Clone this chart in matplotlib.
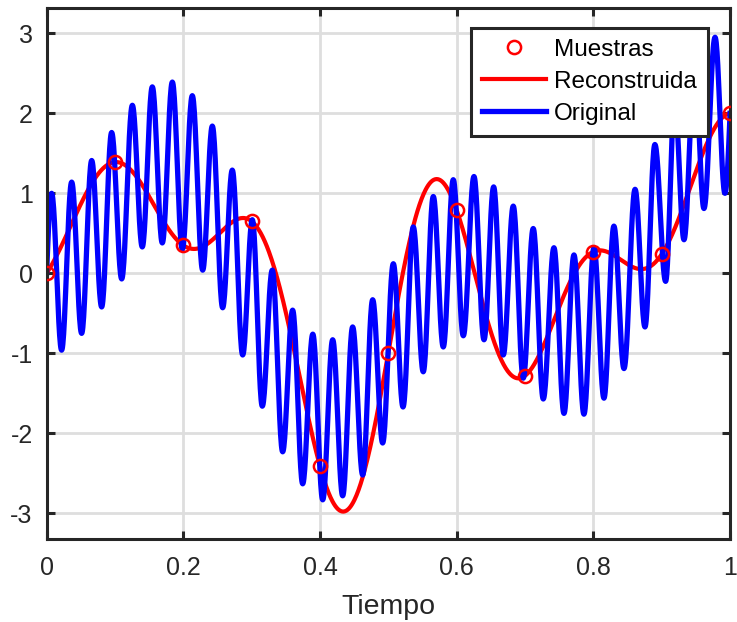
import numpy as np
import matplotlib
matplotlib.use("Agg")
import matplotlib.pyplot as plt

# ---- data ----
# samples (Muestras)
sample_t = [0.0, 0.1, 0.2, 0.3, 0.4, 0.5, 0.6, 0.7, 0.8, 0.9, 1.0]
sample_v = [0.0, 1.39, 0.35, 0.65, -2.41, -0.99, 0.79, -1.28, 0.27, 0.24, 2.0]

# original signal: start, local extrema (peak / trough), end
orig_t = [0.000, 0.0074, 0.022, 0.0367, 0.0513, 0.066, 0.0806, 0.0952, 0.1099,
          0.1255, 0.140, 0.1547, 0.1693, 0.184, 0.1986, 0.2132, 0.2284, 0.2425,
          0.2576, 0.2717, 0.2869, 0.301, 0.3156, 0.3302, 0.3454, 0.360, 0.3747,
          0.3895, 0.404, 0.4186, 0.4332, 0.4478, 0.4625, 0.4771, 0.4917, 0.5073,
          0.5215, 0.5365, 0.5511, 0.5658, 0.5804, 0.595, 0.6097, 0.6253, 0.640,
          0.6541, 0.6682, 0.6828, 0.6974, 0.712, 0.7267, 0.7423, 0.757, 0.7716,
          0.7862, 0.8009, 0.8155, 0.830, 0.8448, 0.861, 0.8755, 0.890, 0.9057,
          0.919, 0.9326, 0.948, 0.9618, 0.978, 0.9925, 1.000]
orig_v = [0.00, 1.00, -0.96, 1.14, -0.75, 1.41, -0.42, 1.76, -0.07,
          2.10, 0.33, 2.33, 0.38, 2.39, 0.30, 2.22, 0.04, 1.84,
          -0.43, 1.29, -1.02, 0.67, -1.66, 0.04, -2.23, -0.46, -2.63,
          -0.76, -2.83, -0.83, -2.78, -0.67, -2.52, -0.33, -2.12, 0.12,
          -1.67, 0.58, -1.23, 0.96, -0.92, 1.17, -0.78, 1.21, -0.83,
          1.08, -1.02, 0.84, -1.31, 0.56, -1.57, 0.32, -1.75, 0.23,
          -1.76, 0.32, -1.56, 0.59, -1.19, 1.05, -0.67, 1.61, -0.10,
          2.16, 0.42, 2.60, 0.81, 2.95, 1.00, 2.00]

x_ticks = [0, 0.2, 0.4, 0.6, 0.8, 1]
y_ticks = [-3, -2, -1, 0, 1, 2, 3]
legend_labels = ["Muestras", "Reconstruida", "Original"]
x_label = "Tiempo"

# ---- smooth rendering of the original through its extrema ----
ot = np.array(orig_t); ov = np.array(orig_v)
bt, bv = [], []
n = len(ot)
for i in range(n - 1):
    s = np.linspace(0, 1, 25, endpoint=(i == n - 2))
    if i == 0:          # mid-level -> peak (quarter wave)
        y = ov[0] + (ov[1] - ov[0]) * np.sin(np.pi / 2 * s)
    elif i == n - 2:    # trough -> mid-level (quarter wave)
        y = ov[i] + (ov[i + 1] - ov[i]) * (1 - np.cos(np.pi / 2 * s))
    else:               # extremum -> extremum (half wave)
        y = ov[i] + (ov[i + 1] - ov[i]) * (1 - np.cos(np.pi * s)) / 2
    bt.append(ot[i] + (ot[i + 1] - ot[i]) * s)
    bv.append(y)
bt = np.concatenate(bt); bv = np.concatenate(bv)

# ---- sinc reconstruction from the samples ----
st = np.array(sample_t); sv = np.array(sample_v)
Ts = st[1] - st[0]
rt = np.linspace(0, 1, 1000)
rv = np.array([np.sum(sv * np.sinc((t - st) / Ts)) for t in rt])

# ---- figure ----
plt.rcParams['font.family'] = ['Liberation Sans', 'DejaVu Sans']
plt.rcParams['axes.unicode_minus'] = False
dark = '#262626'

fig = plt.figure(figsize=(7.37, 6.22), dpi=100)
ax = fig.add_axes([0.0632, 0.1334, 0.9274, 0.853])

ax.plot(st, sv, 'o', mfc='none', mec=(1, 0, 0), ms=9.5, mew=1.8,
        label=legend_labels[0], zorder=3)
ax.plot(rt, rv, '-', color=(1, 0, 0), lw=3.0, label=legend_labels[1], zorder=2)
ax.plot(bt, bv, '-', color=(0, 0, 1), lw=3.8, label=legend_labels[2], zorder=2.5)

ax.set_xlim(0, 1)
ax.set_ylim(-3.32, 3.31)
ax.set_xticks(x_ticks)
ax.set_xticklabels([f"{v:g}" for v in x_ticks])
ax.set_yticks(y_ticks)
ax.set_yticklabels([f"{v:d}" for v in y_ticks])
ax.grid(True, color='#dedede', lw=2.0)
ax.set_axisbelow(True)
for sp in ax.spines.values():
    sp.set_color(dark); sp.set_linewidth(2.2)
ax.tick_params(direction='in', length=6, width=2.2, colors=dark,
               top=True, right=True, labelsize=18, labelcolor=dark)
ax.tick_params(axis='x', pad=12)
ax.tick_params(axis='y', pad=10)
ax.set_xlabel(x_label, fontsize=20.5, color=dark, labelpad=10)

leg = ax.legend(loc='upper right', bbox_to_anchor=(0.9677, 0.964),
                borderaxespad=0, fontsize=17.5, handlelength=2.6,
                handletextpad=0.36, labelspacing=0.42, borderpad=0.45,
                fancybox=False, framealpha=1, edgecolor=dark)
leg.get_frame().set_linewidth(2.2)
leg.set_zorder(10)

fig.savefig("out.png", dpi=100)
